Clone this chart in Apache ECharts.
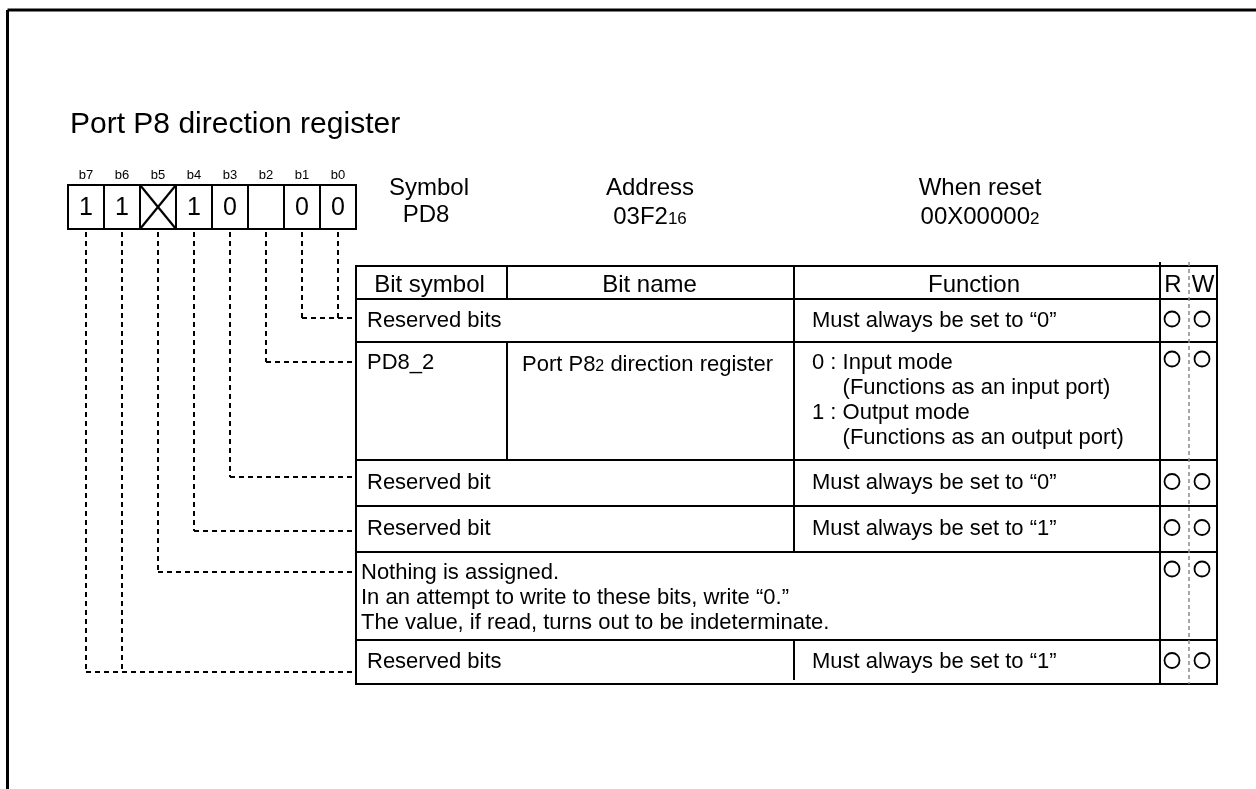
<!DOCTYPE html>
<html>
<head>
<meta charset="utf-8">
<script src="https://cdn.jsdelivr.net/npm/echarts@6/dist/echarts.min.js"></script>
<style>html,body{margin:0;padding:0;background:#fff}#c{width:1256px;height:789px}</style>
</head>
<body>
<div id="c"></div>
<script>
// ---------- DATA ----------
const title = 'Port P8 direction register';
const bitLabels = ['b7','b6','b5','b4','b3','b2','b1','b0'];
const bitValues = ['1','1','X','1','0','','0','0'];       // 'X' = bit not implemented
const infoLabels = ['Symbol','Address','When reset'];
const infoValues = [['PD8',''],['03F2','16'],['00X00000','2']]; // [main, subscript]
const columnHeaders = ['Bit symbol','Bit name','Function','R','W'];
const rowBits = [[6,7],[5],[4],[3],[2],[0,1]];            // indices into bitLabels
const rowSymbols = [['Reserved bits'],['PD8_2'],['Reserved bit'],['Reserved bit'],
  ['Nothing is assigned.','In an attempt to write to these bits, write \u201c0.\u201d','The value, if read, turns out to be indeterminate.'],
  ['Reserved bits']];
const rowNames = [null,['Port P8','2',' direction register'],null,null,null,null];
const rowFunctions = [
  ['Must always be set to \u201c0\u201d'],
  ['0 : Input mode','     (Functions as an input port)','1 : Output mode','     (Functions as an output port)'],
  ['Must always be set to \u201c0\u201d'],
  ['Must always be set to \u201c1\u201d'],
  null,
  ['Must always be set to \u201c1\u201d']];
const rowRead = [true,true,true,true,true,true];
const rowWrite = [true,true,true,true,true,true];

// ---------- LAYOUT ----------
const L = {
  font: '"Liberation Sans", Arial, Helvetica, sans-serif',
  frame: {x:7.5, y:10},
  title: {x:70, y:125, size:30},
  bits: {x0:68, w:36, top:185, bottom:229, labelY:175, labelSize:13, valueSize:25},
  info: {xs:[429, 650, 980], y1:188, y2:215, size:24, subSize:17},
  table: {left:356, right:1217, c1:507, c2:794, c3:1160, c4:1189,
          rows:[266,299,342,460,506,552,640,684], topExt:262},
  leaderY: [318,362,477,531,572,672],
  text: {size:22, headSize:24, symX:367, fullX:361, nameX:522, funcX:812, lineH:25, firstOff:21},
  rw: {rx:1172, wx:1202, hx:[1173,1203], r:7.5}
};

const chart = echarts.init(document.getElementById('c'), null, {renderer:'canvas'});

function build(api){
  const P = (x,y) => api.coord([x,y]);
  const out = [];
  const line = (x1,y1,x2,y2,w,opt) => {
    const a = P(x1,y1), b = P(x2,y2);
    out.push({type:'line', shape:{x1:a[0],y1:a[1],x2:b[0],y2:b[1]},
      style:Object.assign({stroke:'#000', lineWidth:w}, opt||{})});
  };
  const text = (x,y,str,size,align,extra) => {
    const a = P(x,y);
    out.push({type:'text', style:Object.assign({x:a[0], y:a[1], text:str,
      font: size+'px '+L.font, fill:'#000', align:align||'left', verticalAlign:'middle'}, extra||{})});
  };
  const subText = (x,y,main,sub,size,subSize,align) => {
    const a = P(x,y);
    out.push({type:'text', style:{x:a[0], y:a[1], text:'{m|'+main+'}{s|'+sub+'}',
      align:align, verticalAlign:'middle',
      rich:{m:{font:size+'px '+L.font, fill:'#000', lineHeight:size+4, verticalAlign:'bottom'},
            s:{font:subSize+'px '+L.font, fill:'#000', lineHeight:size+4, verticalAlign:'bottom', padding:[0,0,1,0]}}}});
  };

  // frame
  line(L.frame.x, L.frame.y, 1256, L.frame.y, 3);
  line(L.frame.x, L.frame.y, L.frame.x, 789, 3);

  // title
  text(L.title.x, L.title.y, title, L.title.size, 'left');

  // bit boxes
  const B = L.bits;
  const n = bitLabels.length;
  line(B.x0, B.top, B.x0 + n*B.w, B.top, 2);
  line(B.x0, B.bottom, B.x0 + n*B.w, B.bottom, 2);
  for (let i=0;i<=n;i++) line(B.x0+i*B.w, B.top-1, B.x0+i*B.w, B.bottom+1, 2);
  bitLabels.forEach((lab,i) => {
    const cx = B.x0 + i*B.w + B.w/2;
    text(cx, B.labelY, lab, B.labelSize, 'center');
    const v = bitValues[i];
    if (v === 'X') {
      line(B.x0+i*B.w, B.top, B.x0+(i+1)*B.w, B.bottom, 2.2);
      line(B.x0+(i+1)*B.w, B.top, B.x0+i*B.w, B.bottom, 2.2);
    } else if (v) {
      text(cx, (B.top+B.bottom)/2+1, v, B.valueSize, 'center');
    }
  });

  // info header
  infoLabels.forEach((lab,i) => {
    text(L.info.xs[i], L.info.y1, lab, L.info.size, 'center');
    const v = infoValues[i];
    if (v[1]) subText(L.info.xs[i], L.info.y2, v[0], v[1], L.info.size, L.info.subSize, 'center');
    else text(L.info.xs[i]-3, L.info.y2, v[0], L.info.size, 'center');
  });

  // leaders
  const T = L.table;
  const dash = {lineDash:[5,4]};
  rowBits.forEach((bits, r) => {
    const y = L.leaderY[r];
    let minX = Infinity;
    bits.forEach(bi => {
      const cx = B.x0 + bi*B.w + B.w/2;
      minX = Math.min(minX, cx);
      line(cx, B.bottom+3, cx, y, 2, dash);
    });
    line(minX, y, T.left, y, 2, dash);
  });

  // table grid
  const R = T.rows;
  R.forEach(y => line(T.left-1, y, T.right+1, y, 2));
  line(T.left, R[0], T.left, R[R.length-1], 2);
  line(T.right, R[0], T.right, R[R.length-1], 2);
  line(T.c3, T.topExt, T.c3, R[R.length-1], 2);
  line(T.c4, T.topExt, T.c4, R[R.length-1], 1.5, {stroke:'#8a8a8a', lineDash:[4,3]});
  // header dividers
  line(T.c1, R[0], T.c1, R[1], 2);
  line(T.c2, R[0], T.c2, R[1], 2);
  const X = L.text;
  const hy = R[0] + 19;
  text((T.left+T.c1)/2-2, hy, columnHeaders[0], X.headSize, 'center');
  text((T.c1+T.c2)/2-1, hy, columnHeaders[1], X.headSize, 'center');
  text((T.c2+T.c3)/2-3, hy, columnHeaders[2], X.headSize, 'center');
  text(L.rw.hx[0], hy, columnHeaders[3], X.headSize, 'center');
  text(L.rw.hx[1], hy, columnHeaders[4], X.headSize, 'center');

  // rows
  rowSymbols.forEach((sym, r) => {
    const top = R[r+1], bot = R[r+2];
    const multi = sym.length > 1 || (rowFunctions[r] && rowFunctions[r].length > 1);
    const lineY = k => multi ? top + X.firstOff + k*X.lineH : (top+bot)/2;
    const full = !rowFunctions[r];
    if (rowNames[r]) line(T.c1, top+1, T.c1, bot, 2);
    if (rowFunctions[r]) line(T.c2, top, T.c2, r === rowSymbols.length-1 ? bot-4 : bot, 2);
    sym.forEach((s,k) => text(full ? X.fullX : X.symX, lineY(k), s, X.size, 'left'));
    if (rowNames[r]) {
      const nm = rowNames[r];
      const a = P(X.nameX, lineY(0));
      out.push({type:'text', style:{x:a[0], y:a[1], text:'{m|'+nm[0]+'}{s|'+nm[1]+'}{m|'+nm[2]+'}',
        align:'left', verticalAlign:'middle',
        rich:{m:{font:X.size+'px '+L.font, fill:'#000', lineHeight:26, verticalAlign:'bottom'},
              s:{font:'16px '+L.font, fill:'#000', lineHeight:26, verticalAlign:'bottom', padding:[0,0,1,0]}}}});
    }
    if (rowFunctions[r]) rowFunctions[r].forEach((f,k) => text(X.funcX, lineY(k), f, X.size, 'left'));
    const cy = multi ? top + 17 : (top+bot)/2 - 1.5;
    [[rowRead[r], L.rw.rx],[rowWrite[r], L.rw.wx]].forEach(([on,x]) => {
      if (!on) return;
      const c = P(x, cy);
      out.push({type:'circle', shape:{cx:c[0], cy:c[1], r:L.rw.r}, style:{fill:'none', stroke:'#000', lineWidth:1.8}});
    });
  });
  return out;
}

chart.setOption({
  animation:false,
  backgroundColor:'#fff',
  grid:{left:0,right:0,top:0,bottom:0},
  xAxis:{type:'value', min:0, max:1256, show:false},
  yAxis:{type:'value', min:0, max:789, inverse:true, show:false},
  series:[{type:'custom', coordinateSystem:'cartesian2d', clip:false, silent:true,
    data:[[0,0]],
    renderItem:(params, api) => ({type:'group', children: build(api)})}]
});
</script>
</body>
</html>
